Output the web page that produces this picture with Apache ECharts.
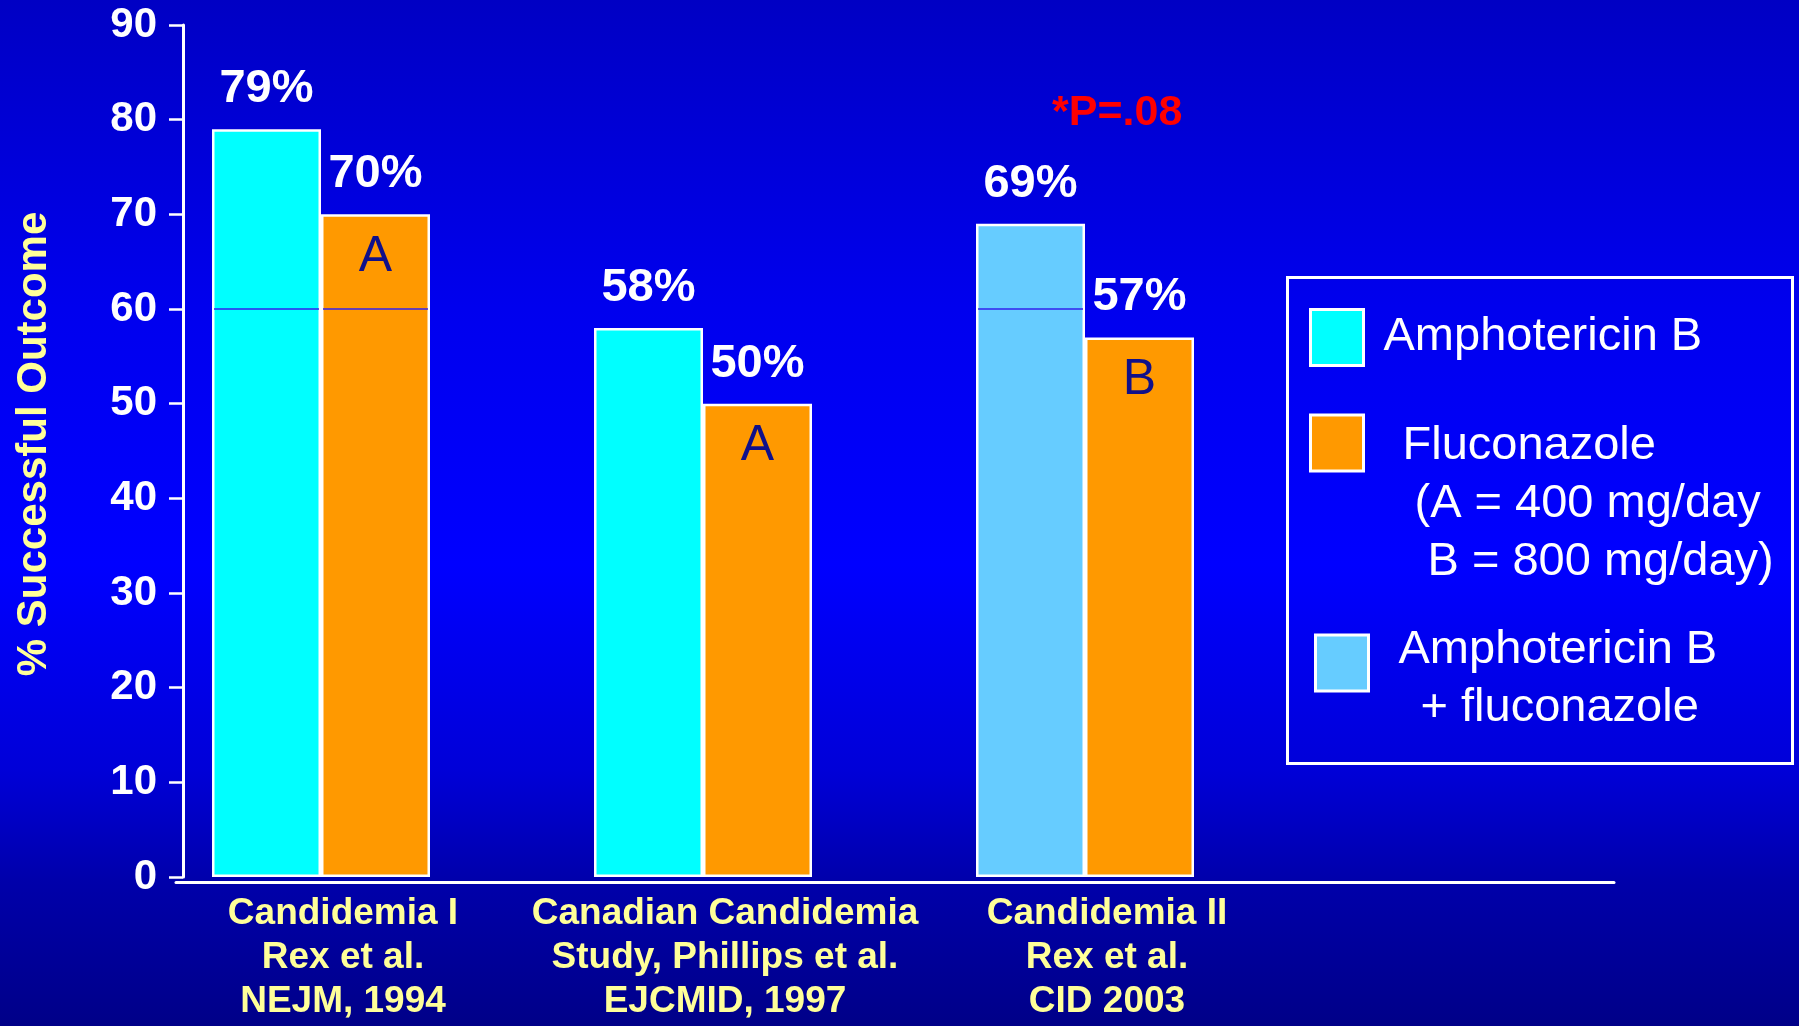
<!DOCTYPE html>
<html>
<head>
<meta charset="utf-8">
<title>Successful outcome in candidemia trials</title>
<script src="https://cdn.jsdelivr.net/npm/echarts@6/dist/echarts.min.js"></script>
<style>
  html, body { margin: 0; padding: 0; }
  #chart {
    width: 1799px;
    height: 1026px;
    background: linear-gradient(to bottom,
      #0000c4 0%, #0000ee 30%, #0000ff 55%, #0000d8 75%, #0000aa 86%, #000088 100%);
  }
</style>
</head>
<body>
<div id="chart"></div>
<script>
// Studies (x categories)
const categories = [
  'Candidemia I\nRex et al.\nNEJM, 1994',
  'Canadian Candidemia\nStudy, Phillips et al.\nEJCMID, 1997',
  'Candidemia II\nRex et al.\nCID 2003'
];

// % successful outcome per arm
const amphotericinB = [79, 58, null];
const fluconazole = [70, 50, 57];
const combination = [null, null, 69];

// Fluconazole dose group shown inside each orange bar
const fluconazoleDose = ['A', 'A', 'B'];

// Value axis ticks
const yTickValues = [0, 10, 20, 30, 40, 50, 60, 70, 80, 90];

// Level of the thin rule drawn across the taller bars
const referenceLevel = 60;

const seriesNames = ['Amphotericin B', 'Fluconazole', 'Amphotericin B + fluconazole'];

const FONT = '"Liberation Sans", Arial, sans-serif';
const BAR_W = 109;
const YELLOW = '#FFFF99';

const chart = echarts.init(document.getElementById('chart'), null, { renderer: 'canvas' });

const yMin = yTickValues[0];
const yMax = yTickValues[yTickValues.length - 1];
const yStep = yTickValues[1] - yTickValues[0];

const legendCommon = {
  orient: 'vertical',
  padding: 0,
  itemWidth: 53,
  itemHeight: 56,
  icon: 'rect',
  selectedMode: false,
  itemStyle: { borderColor: '#ffffff', borderWidth: 3 }
};

const option = {
  backgroundColor: 'transparent',
  animation: false,
  textStyle: { fontFamily: FONT },
  title: {
    text: '*P=.08',
    left: 1052,
    top: 92,
    padding: 0,
    textStyle: { color: '#FF0000', fontSize: 43, fontWeight: 'bold', lineHeight: 42, fontFamily: FONT }
  },
  legend: [
    Object.assign({}, legendCommon, {
      data: [seriesNames[0]],
      left: 1309,
      top: 308,
      formatter: function () { return '{a|Amphotericin B}'; },
      textStyle: {
        color: '#fff', fontSize: 47, fontFamily: FONT,
        rich: { a: { color: '#fff', fontSize: 47, fontFamily: FONT, lineHeight: 58, padding: [0, 0, 0, 15] } }
      }
    }),
    Object.assign({}, legendCommon, {
      data: [seriesNames[1]],
      left: 1309,
      top: 351,
      formatter: function () {
        return '{gap| }\n{a|Fluconazole}\n{b|(A = 400 mg/day}\n{c|B = 800 mg/day)}';
      },
      textStyle: {
        color: '#fff', fontSize: 47, fontFamily: FONT,
        rich: {
          gap: { fontSize: 10, lineHeight: 122 },
          a: { color: '#fff', fontSize: 47, fontFamily: FONT, lineHeight: 58, padding: [0, 0, 0, 34] },
          b: { color: '#fff', fontSize: 47, fontFamily: FONT, lineHeight: 58, padding: [0, 0, 0, 46] },
          c: { color: '#fff', fontSize: 47, fontFamily: FONT, lineHeight: 58, padding: [0, 0, 0, 59] }
        }
      }
    }),
    Object.assign({}, legendCommon, {
      data: [seriesNames[2]],
      left: 1314,
      top: 600,
      formatter: function () {
        return '{gap| }\n{a|Amphotericin B}\n{b|+ fluconazole}';
      },
      textStyle: {
        color: '#fff', fontSize: 47, fontFamily: FONT,
        rich: {
          gap: { fontSize: 10, lineHeight: 32 },
          a: { color: '#fff', fontSize: 47, fontFamily: FONT, lineHeight: 58, padding: [0, 0, 0, 25] },
          b: { color: '#fff', fontSize: 47, fontFamily: FONT, lineHeight: 58, padding: [0, 0, 0, 47] }
        }
      }
    })
  ],
  graphic: [
    {
      type: 'rect',
      left: 1285,
      top: 275,
      shape: { x: 0, y: 0, width: 505, height: 486 },
      style: { fill: 'none', stroke: '#ffffff', lineWidth: 3 },
      silent: true
    }
  ],
  grid: [
    // bars
    { left: 130, top: 25, width: 1146, height: 852, outerBoundsMode: 'none', containLabel: false },
    // visible frame axes
    { left: 176, top: 25, width: 1438, height: 852, outerBoundsMode: 'none', containLabel: false }
  ],
  xAxis: [
    {
      gridIndex: 0,
      type: 'category',
      data: categories,
      axisLine: { show: false },
      axisTick: { show: false },
      axisLabel: {
        interval: 0,
        margin: 15,
        color: YELLOW,
        fontSize: 37,
        fontWeight: 'bold',
        lineHeight: 44,
        fontFamily: FONT,
        padding: [0, 0, 0, 44]
      },
      splitLine: { show: false }
    },
    {
      gridIndex: 1,
      type: 'value',
      min: 0,
      max: 1,
      offset: 5,
      axisLine: { show: true, onZero: false, lineStyle: { color: '#ffffff', width: 3 } },
      axisTick: { show: false },
      axisLabel: { show: false },
      splitLine: { show: false }
    }
  ],
  yAxis: [
    {
      gridIndex: 0,
      type: 'value',
      min: yMin,
      max: yMax,
      interval: yStep,
      show: false,
      splitLine: { show: false }
    },
    {
      gridIndex: 1,
      type: 'value',
      min: yMin,
      max: yMax,
      interval: yStep,
      offset: -7,
      name: '% Successful Outcome',
      nameLocation: 'middle',
      nameRotate: 90,
      nameGap: 128,
      nameTextStyle: {
        color: YELLOW, fontSize: 42, fontWeight: 'bold', fontFamily: FONT,
        padding: [0, 0, 0, 14]
      },
      axisLine: { show: true, onZero: false, lineStyle: { color: '#ffffff', width: 3 } },
      axisTick: { show: true, inside: false, length: 14, lineStyle: { color: '#ffffff', width: 2.5 } },
      axisLabel: { color: '#ffffff', fontSize: 42, fontWeight: 'bold', margin: 26, fontFamily: FONT },
      splitLine: { show: false }
    }
  ],
  series: [
    {
      name: seriesNames[0],
      type: 'bar',
      xAxisIndex: 0,
      yAxisIndex: 0,
      stack: 'amphotericin',
      data: amphotericinB,
      barWidth: BAR_W,
      barGap: '0%',
      itemStyle: { color: '#00FFFF', borderColor: '#ffffff', borderWidth: 2.5 },
      label: {
        show: true,
        position: 'top',
        distance: 12,
        formatter: function (p) { return p.value + '%'; },
        color: '#ffffff',
        fontSize: 47,
        fontWeight: 'bold',
        lineHeight: 56,
        fontFamily: FONT
      }
    },
    {
      name: seriesNames[1],
      type: 'bar',
      xAxisIndex: 0,
      yAxisIndex: 0,
      data: fluconazole,
      barWidth: BAR_W,
      barGap: '0%',
      itemStyle: { color: '#FF9900', borderColor: '#ffffff', borderWidth: 2.5 },
      label: {
        show: true,
        position: 'insideTop',
        distance: -68,
        formatter: function (p) {
          return '{v|' + p.value + '%}\n{l|' + fluconazoleDose[p.dataIndex] + '}';
        },
        rich: {
          v: { color: '#ffffff', fontSize: 47, fontWeight: 'bold', lineHeight: 56, fontFamily: FONT },
          l: { color: '#10108a', fontSize: 50, fontWeight: 'normal', lineHeight: 110, fontFamily: FONT }
        }
      }
    },
    {
      name: seriesNames[2],
      type: 'bar',
      xAxisIndex: 0,
      yAxisIndex: 0,
      stack: 'amphotericin',
      data: combination,
      barWidth: BAR_W,
      barGap: '0%',
      itemStyle: { color: '#66CCFF', borderColor: '#ffffff', borderWidth: 2.5 },
      label: {
        show: true,
        position: 'top',
        distance: 12,
        formatter: function (p) { return p.value + '%'; },
        color: '#ffffff',
        fontSize: 47,
        fontWeight: 'bold',
        lineHeight: 56,
        fontFamily: FONT
      }
    },
    {
      // thin rule at the reference level, drawn only inside bars that rise above it
      type: 'custom',
      xAxisIndex: 0,
      yAxisIndex: 0,
      silent: true,
      z: 5,
      data: categories.map(function (c, i) {
        const left = amphotericinB[i] != null ? amphotericinB[i] : combination[i];
        return [i, left, fluconazole[i]];
      }),
      encode: { x: 0, y: 1 },
      renderItem: function (params, api) {
        const idx = api.value(0);
        const at = api.coord([idx, referenceLevel]);
        const children = [];
        [api.value(1), api.value(2)].forEach(function (v, k) {
          if (v > referenceLevel) {
            const x0 = at[0] + (k - 1) * BAR_W + 2;
            children.push({
              type: 'line',
              shape: { x1: x0, y1: at[1], x2: x0 + BAR_W - 4, y2: at[1] },
              style: { stroke: '#3322ee', lineWidth: 1.5 }
            });
          }
        });
        return { type: 'group', children: children };
      }
    }
  ]
};

chart.setOption(option);
</script>
</body>
</html>
